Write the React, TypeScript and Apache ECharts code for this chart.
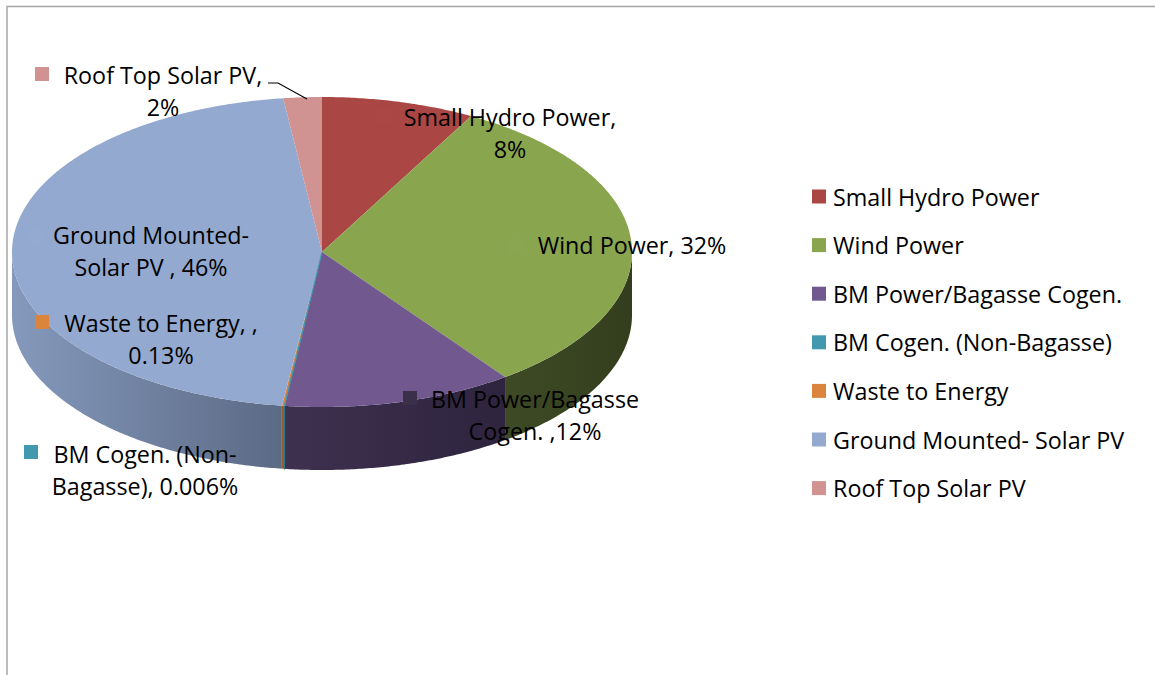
import React, { useEffect, useRef } from "react";
import * as echarts from "echarts";

// Share of installed renewable capacity by source (%)
const categories = [
  "Small Hydro Power",
  "Wind Power",
  "BM Power/Bagasse Cogen.",
  "BM Cogen. (Non-Bagasse)",
  "Waste to Energy",
  "Ground Mounted- Solar PV",
  "Roof Top Solar PV",
];
const shares = [8, 32, 12, 0.006, 0.13, 46, 2];

// Data-label wording before the value
const labelPrefixes = [
  "Small Hydro Power,\n",
  "Wind Power, ",
  "BM Power/Bagasse\nCogen. ,",
  "BM Cogen. (Non-\nBagasse), ",
  "Waste to Energy, ,\n",
  "Ground Mounted-\nSolar PV , ",
  "Roof Top Solar PV,\n",
];

const topColors = ["#AA4644", "#89A54E", "#71588F", "#4198AF", "#DB843D", "#93A9CF", "#D19392"];
const sideColors = [
  ["#7F3432", "#6A2A29"],
  ["#3E4A25", "#343E1E"],
  ["#3E3150", "#2E243E"],
  ["#2E7385", "#2E7385"],
  ["#9C5E2C", "#9C5E2C"],
  ["#8599BC", "#5B6A85"],
  ["#9A6C6B", "#9A6C6B"],
];
const keyColors = ["#AB4846", "#8AA650", "#3B3049", "#4198AF", "#DB843D", "#94AAD0", "#D19392"];

// Pie geometry (top face ellipse and thickness)
const CX = 322;
const CY = 252;
const RX = 310;
const RY = 155;
const DEPTH = 63;

// Label block layout: centre of text block, and legend-key box
const labelLayout = [
  { x: 510, y: 133, key: [377, 109] },
  { x: 632, y: 245, key: [508, 239] },
  { x: 535, y: 415, key: [403, 391] },
  { x: 145, y: 470, key: [24, 445] },
  { x: 161, y: 339, key: [35, 315] },
  { x: 151, y: 251, key: [29, 230] },
  { x: 163, y: 91, key: [35, 67] },
];

const FAMILY = "'Open Sans', 'Noto Sans', sans-serif";
const FONT_SIZE = 23.3;
const FONT = FONT_SIZE + "px " + FAMILY;

const total = shares.reduce((a, b) => a + b, 0);
const startAngle = (i: number) => (shares.slice(0, i).reduce((a, b) => a + b, 0) / total) * 360;

function rim(theta: number, drop: number): number[] {
  const r = (theta * Math.PI) / 180;
  return [CX + RX * Math.sin(r), CY - RY * Math.cos(r) + drop];
}

function arcPoints(a0: number, a1: number, drop: number): number[][] {
  const pts: number[][] = [];
  const n = Math.max(2, Math.ceil((a1 - a0) / 0.5) + 1);
  for (let k = 0; k < n; k++) pts.push(rim(a0 + ((a1 - a0) * k) / (n - 1), drop));
  return pts;
}

function buildOption(): echarts.EChartsCoreOption {
  const series = categories.map((name, i) => ({
    type: "custom",
    name,
    coordinateSystem: "none",
    silent: true,
    itemStyle: { color: topColors[i] },
    data: [shares[i]],
    renderItem: (_params: any, api: any) => {
      const v = api.value(0) as number;
      const a0 = startAngle(i);
      const a1 = a0 + (v / total) * 360;
      const children: any[] = [];
      const s0 = Math.max(a0, 90);
      const s1 = Math.min(a1, 270);
      const tiny = v < 0.05;
      if (s1 > s0) {
        const upper = arcPoints(s0, s1, 0);
        const lower = arcPoints(s0, s1, DEPTH).reverse();
        children.push({
          type: "polygon",
          z2: tiny ? 3 : 1,
          shape: { points: [...upper, ...lower] },
          style: {
            fill: new echarts.graphic.LinearGradient(0, 0, 1, 0, [
              { offset: 0, color: sideColors[i][0] },
              { offset: 1, color: sideColors[i][1] },
            ]),
            stroke: tiny ? sideColors[i][0] : null,
            lineWidth: tiny ? 1.2 : 0,
          },
        });
      }
      children.push({
        type: "polygon",
        z2: tiny ? 8 : 5,
        shape: { points: [[CX, CY], ...arcPoints(a0, a1, 0)] },
        style: {
          fill: topColors[i],
          stroke: tiny ? topColors[i] : null,
          lineWidth: tiny ? 1.2 : 0,
        },
      });
      return { type: "group", children };
    },
  }));

  const labels: any[] = [];
  categories.forEach((_, i) => {
    const lay = labelLayout[i];
    labels.push({
      type: "rect",
      z: 20,
      shape: { x: lay.key[0], y: lay.key[1], width: 14, height: 14 },
      style: { fill: keyColors[i] },
    });
    labels.push({
      type: "text",
      z: 21,
      x: lay.x,
      y: lay.y,
      style: {
        text: labelPrefixes[i] + shares[i] + "%",
        font: FONT,
        fill: "#000000",
        align: "center",
        verticalAlign: "middle",
        lineHeight: 32,
      },
    });
  });

  return {
    animation: false,
    backgroundColor: "#ffffff",
    legend: {
      orient: "vertical",
      left: 812,
      top: 185,
      padding: 0,
      icon: "rect",
      itemWidth: 14,
      itemHeight: 14,
      itemGap: 25.6,
      selectedMode: false,
      data: categories,
      textStyle: {
        fontFamily: FAMILY,
        fontSize: FONT_SIZE,
        lineHeight: 22,
        color: "#000000",
        padding: [0, 0, 0, 2],
      },
    },
    graphic: [
      {
        type: "rect",
        z: 0,
        shape: { x: 7, y: 6.5, width: 1200, height: 700 },
        style: { fill: "none", stroke: "#A6A6A6", lineWidth: 1.5 },
      },
      {
        type: "polyline",
        z: 20,
        shape: { points: [[268, 83], [278, 83], [307, 99]] },
        style: { stroke: "#000000", lineWidth: 1.2, fill: "none" },
      },
      ...labels,
    ],
    series,
  };
}

export default function App() {
  const ref = useRef<HTMLDivElement>(null);
  useEffect(() => {
    if (!ref.current) return;
    const chart = echarts.init(ref.current, undefined, { renderer: "svg" });
    chart.setOption(buildOption());
    return () => chart.dispose();
  }, []);
  return (
    <div
      ref={ref}
      style={{ position: "absolute", left: 0, top: 0, width: 1155, height: 675 }}
    />
  );
}
